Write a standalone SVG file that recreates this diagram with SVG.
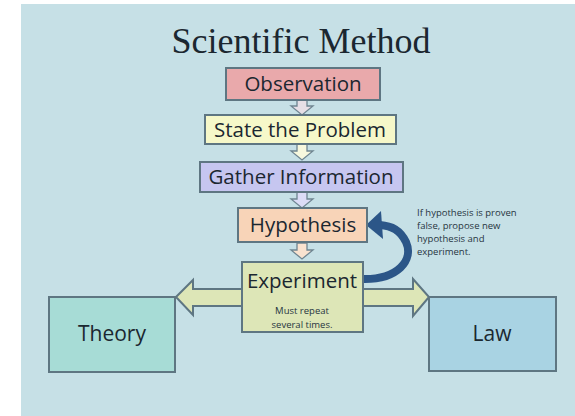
<svg xmlns="http://www.w3.org/2000/svg" width="575" height="416" viewBox="0 0 575 416">
<style>
.box{stroke:#5e7682;stroke-width:2}
.lbl{font-family:"Open Sans","Liberation Sans",sans-serif;font-size:20.5px;font-weight:500;fill:#1b2730;text-anchor:middle}
.big{font-size:21px}
.small{font-family:"Open Sans","Liberation Sans",sans-serif;font-size:9.5px;fill:#26353f}
.down{stroke:#6f8591;stroke-width:1.3}
</style>
<defs>
<path id="dn" d="M-5,0 H5 V7 H11 L0,16 L-11,7 H-5 Z"/>
</defs>
<rect x="0" y="0" width="575" height="416" fill="#ffffff"/>
<rect x="21" y="4" width="554" height="412" fill="#c6e0e6"/>
<text x="301" y="53" font-family="'Liberation Serif',serif" font-size="36" fill="#1b2730" text-anchor="middle">Scientific Method</text>

<g id="connectors">
<use href="#dn" x="302" y="99" class="down" fill="#e6dfe6"/>
<use href="#dn" x="302" y="144" class="down" fill="#f7f8de"/>
<use href="#dn" x="302" y="192" class="down" fill="#dcdcf6"/>
<use href="#dn" x="302" y="243" class="down" fill="#f9e2cf"/>
<polygon points="176,297 193,280 193,289 413,289 413,279 429,297 413,316 413,306 193,306 193,315" fill="#dde6b7" stroke="#5e7682" stroke-width="2" stroke-linejoin="miter"/>
<path d="M 362 279 C 398 280, 414 260, 406 242 C 400 230, 392 226, 380 225" fill="none" stroke="#2c5688" stroke-width="8"/>
<polygon points="366,225 381,211 383,239" fill="#2c5688"/>
</g>

<g id="observation">
<rect class="box" x="226" y="68" width="154" height="32" fill="#e9a9ab"/>
<text class="lbl" x="303" y="91">Observation</text>
</g>
<g id="state-problem">
<rect class="box" x="205" y="115" width="191" height="29" fill="#f6f8c9"/>
<text class="lbl" x="300" y="137">State the Problem</text>
</g>
<g id="gather-information">
<rect class="box" x="200" y="162" width="203" height="30" fill="#c6c6f0"/>
<text class="lbl" x="301" y="184">Gather Information</text>
</g>
<g id="hypothesis">
<rect class="box" x="238" y="208" width="129" height="34" fill="#f8d4b8"/>
<text class="lbl" x="303" y="232">Hypothesis</text>
</g>
<g id="experiment">
<rect class="box" x="242" y="262" width="121" height="70" fill="#dde6b7"/>
<text class="lbl" x="302" y="288">Experiment</text>
<text class="small" x="302" y="314" text-anchor="middle">Must repeat</text>
<text class="small" x="302" y="328" text-anchor="middle">several times.</text>
</g>
<g id="theory">
<rect class="box" x="49" y="297" width="126" height="75" fill="#a7dcd6"/>
<text class="lbl big" x="112" y="341">Theory</text>
</g>
<g id="law">
<rect class="box" x="429" y="297" width="127" height="74" fill="#a9d3e3"/>
<text class="lbl big" x="492" y="341">Law</text>
</g>
<g id="note">
<text class="small" x="417" y="216">If hypothesis is proven</text>
<text class="small" x="417" y="229">false, propose new</text>
<text class="small" x="417" y="242">hypothesis and</text>
<text class="small" x="417" y="255">experiment.</text>
</g>
</svg>
